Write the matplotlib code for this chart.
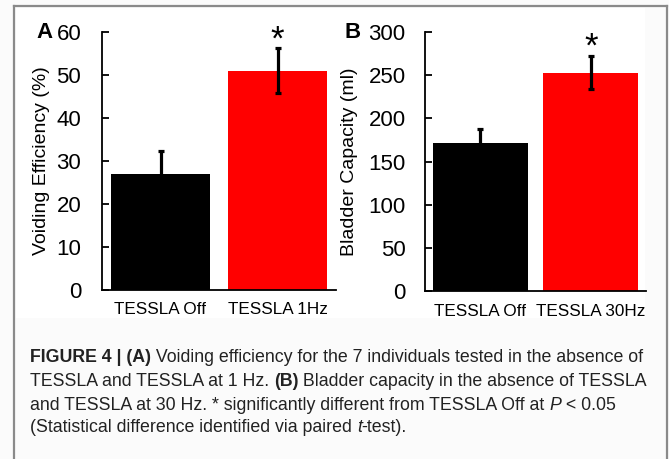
import matplotlib
matplotlib.use("Agg")
import matplotlib.pyplot as plt
from matplotlib.patches import Rectangle
from matplotlib.lines import Line2D

plt.rcParams['font.family'] = ['Liberation Sans', 'DejaVu Sans']

# ---- data ----
categories_a = ["TESSLA Off", "TESSLA 1Hz"]
values_a = [27.0, 51.0]
errors_a = [5.4, 5.3]
yticks_a = [0, 10, 20, 30, 40, 50, 60]

categories_b = ["TESSLA Off", "TESSLA 30Hz"]
values_b = [171.0, 253.0]
errors_b = [16.5, 19.5]
yticks_b = [0, 50, 100, 150, 200, 250, 300]

bar_colors = ["#000000", "#ff0000"]

W, H = 669, 459
fig = plt.figure(figsize=(W / 100, H / 100), dpi=100)
fig.patch.set_facecolor("#fbfbfb")

def fx(px):
    return px / W

def fy(py):
    return 1 - py / H

# white chart background
fig.patches.append(Rectangle((fx(16), fy(318)), fx(645) - fx(16), fy(8) - fy(318),
                             transform=fig.transFigure, facecolor="white",
                             edgecolor="none", zorder=-5))
# outer border
for (x0, y0, x1, y1) in [(14, 6, 667, 6), (14, 6, 14, 459), (667, 6, 667, 459)]:
    fig.lines.append(Line2D([fx(x0), fx(x1)], [fy(y0), fy(y1)], transform=fig.transFigure,
                            color="#8a8a8a", lw=1.6))


def panel(rect, cats, vals, errs, yticks, ylabel, letter, width, ylabel_x, letter_x, pad):
    l, t, r, b = rect
    ax = fig.add_axes([fx(l), fy(b), fx(r) - fx(l), fy(t) - fy(b)])
    ax.set_facecolor("none")
    x = list(range(len(cats)))
    ax.bar(x, vals, width=width, color=bar_colors, zorder=2)
    ax.errorbar(x, vals, yerr=errs, fmt="none", ecolor="black", elinewidth=2.3,
                capsize=2.5, capthick=2.3, zorder=3)
    ax.set_xlim(-0.5, 1.5)
    ax.set_ylim(yticks[0], yticks[-1])
    ax.set_yticks(yticks)
    ax.set_xticks(x)
    ax.set_xticklabels(cats, fontsize=12.3)
    ax.tick_params(axis="y", direction="in", length=5, width=1.3, labelsize=16, pad=pad)
    ax.tick_params(axis="x", length=0, pad=9)
    for s in ["top", "right"]:
        ax.spines[s].set_visible(False)
    for s in ["left", "bottom"]:
        ax.spines[s].set_linewidth(1.3)
    fig.text(fx(ylabel_x), (fy(t) + fy(b)) / 2, ylabel, rotation=90, fontsize=14,
             ha="center", va="center")
    fig.text(fx(letter_x), fy(t), letter, fontsize=16, fontweight="bold",
             ha="left", va="center")
    ax.annotate("*", xy=(1, vals[1] + errs[1]), xytext=(0, -6), textcoords="offset points",
                ha="center", va="bottom", fontsize=25)
    return ax


panel((102, 32, 336, 290), categories_a, values_a, errors_a, yticks_a,
      "Voiding Efficiency (%)", "A", 0.84, 42, 36, 15)
panel((425, 32, 646, 291), categories_b, values_b, errors_b, yticks_b,
      "Bladder Capacity (ml)", "B", 0.86, 350, 344, 14)

# ---- caption with mixed styles ----
caption_lines = [
    [("FIGURE 4 | (A)", "bold", "normal"), (" Voiding efficiency for the 7 individuals tested in the absence of", "normal", "normal")],
    [("TESSLA and TESSLA at 1 Hz. ", "normal", "normal"), ("(B)", "bold", "normal"), (" Bladder capacity in the absence of TESSLA", "normal", "normal")],
    [("and TESSLA at 30 Hz. * significantly different from TESSLA Off at ", "normal", "normal"), ("P", "normal", "italic"), (" < 0.05", "normal", "normal")],
    [("(Statistical difference identified via paired ", "normal", "normal"), ("t", "normal", "italic"), ("-test).", "normal", "normal")],
]
caption_y = [358, 382, 405, 428]

fig.canvas.draw()
renderer = fig.canvas.get_renderer()
for segs, ypx in zip(caption_lines, caption_y):
    xpos = 30
    for txt, weight, style in segs:
        t = fig.text(fx(xpos), fy(ypx), txt, fontsize=12.8, fontweight=weight, fontstyle=style,
                     color="#222222", ha="left", va="center")
        bb = t.get_window_extent(renderer=renderer)
        xpos += bb.width

fig.savefig("out.png", dpi=100, facecolor=fig.get_facecolor())
